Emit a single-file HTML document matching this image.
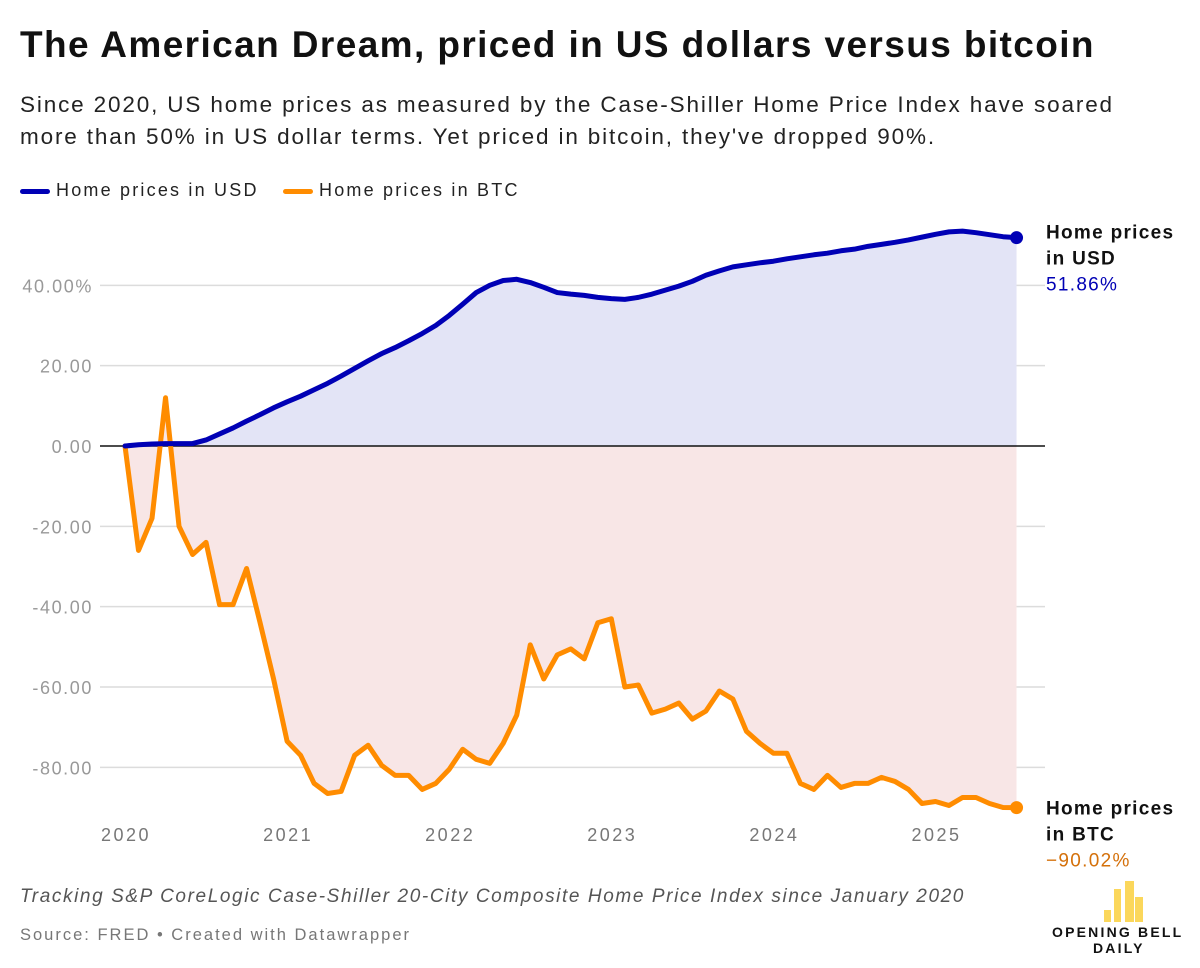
<!DOCTYPE html>
<html><head><meta charset="utf-8">
<style>
body{margin:0;background:#fff;width:1200px;height:968px;overflow:hidden;font-family:"Liberation Sans",sans-serif;}
.t{position:absolute;white-space:nowrap;}
</style></head>
<body>
<div class="t" style="left:20px;top:24px;font-size:37px;font-weight:bold;color:#111;letter-spacing:1.4px">The American Dream, priced in US dollars versus bitcoin</div>
<div class="t" style="left:20px;top:89px;font-size:22.5px;line-height:32px;color:#222;letter-spacing:1.85px">Since 2020, US home prices as measured by the Case-Shiller Home Price Index have soared<br>more than 50% in US dollar terms. Yet priced in bitcoin, they've dropped 90%.</div>
<div class="t" style="left:20px;top:180px;font-size:18px;color:#222;letter-spacing:2.2px"><span style="display:inline-block;width:30px;height:5px;background:#0000b5;border-radius:3px;vertical-align:middle;margin-right:6px"></span>Home prices in USD</div>
<div class="t" style="left:283px;top:180px;font-size:18px;color:#222;letter-spacing:2.2px"><span style="display:inline-block;width:30px;height:5px;background:#ff8c00;border-radius:3px;vertical-align:middle;margin-right:6px"></span>Home prices in BTC</div>
<svg id="chart" width="1200" height="968" style="position:absolute;left:0;top:0"></svg>
<div class="t" style="left:20px;top:886px;font-size:19px;font-style:italic;color:#555;letter-spacing:1.6px">Tracking S&amp;P CoreLogic Case-Shiller 20-City Composite Home Price Index since January 2020</div>
<div class="t" style="left:20px;top:926px;font-size:16.5px;color:#777;letter-spacing:2px">Source: FRED • Created with Datawrapper</div>
<div style="position:absolute;left:1045px;top:878px;width:150px;height:85px">
  <div style="position:absolute;left:59px;top:32px;width:7px;height:12px;background:#fbd75b"></div>
  <div style="position:absolute;left:69px;top:11px;width:7px;height:33px;background:#fbd75b"></div>
  <div style="position:absolute;left:80px;top:3px;width:9px;height:41px;background:#fbd75b"></div>
  <div style="position:absolute;left:90px;top:19px;width:8px;height:25px;background:#fbd75b"></div>
  <div class="t" style="left:7px;top:46px;font-size:14px;font-weight:bold;letter-spacing:2.2px;color:#111">OPENING BELL</div>
  <div class="t" style="left:48px;top:62px;font-size:14px;font-weight:bold;letter-spacing:2.2px;color:#111">DAILY</div>
</div>
<script>
const usdValues=[0,0.3,0.5,0.6,0.6,0.6,1.5,3,4.5,6.2,7.8,9.5,11,12.4,14,15.6,17.4,19.3,21.2,23,24.5,26.2,28,30,32.5,35.3,38.2,40,41.2,41.5,40.7,39.5,38.2,37.8,37.5,37,36.7,36.5,37,37.8,38.8,39.8,41,42.5,43.6,44.6,45.1,45.6,46,46.6,47.1,47.6,48,48.6,49,49.7,50.2,50.7,51.3,52,52.7,53.3,53.5,53.1,52.6,52.1,51.86];
const btcValues=[0,-26,-18,12,-20,-27,-24,-39.5,-39.5,-30.5,-44,-58,-73.5,-77,-84,-86.5,-86,-77,-74.5,-79.5,-82,-82,-85.5,-84,-80.5,-75.5,-78,-79,-74,-67,-49.5,-58,-52,-50.5,-53,-44,-43,-60,-59.5,-66.5,-65.5,-64,-68,-66,-61,-63,-71,-74,-76.5,-76.5,-84,-85.5,-82,-85,-84,-84,-82.5,-83.5,-85.5,-89,-88.5,-89.5,-87.5,-87.5,-89,-90,-90.02];
const yTicks=[40,20,0,-20,-40,-60,-80];
const yTickLabels=["40.00%","20.00","0.00","-20.00","-40.00","-60.00","-80.00"];
const xYears=[2020,2021,2022,2023,2024,2025];
const startYear=2020;
const NS="http://www.w3.org/2000/svg";
const svg=document.getElementById('chart');
const x0=125,pxPerYear=162.1;
function xs(i){return x0+(i/12)*pxPerYear;}
function xYear(y){return x0+(y-startYear)*pxPerYear;}
function ys(v){return 446-v*4.017;}
function mk(tag,attrs){const e=document.createElementNS(NS,tag);for(const k in attrs)e.setAttribute(k,attrs[k]);svg.appendChild(e);return e;}
yTicks.forEach((t,k)=>{
  if(t!==0){const g=mk('line',{x1:100,x2:1045,y1:ys(t),y2:ys(t),stroke:'#dcdcdc','stroke-width':1.5});
  
  }
  const tx=mk('text',{x:93,y:ys(t)+7,'text-anchor':'end','font-size':18,fill:'#999','font-family':'Liberation Sans, sans-serif','letter-spacing':'1.6'});
  tx.textContent=yTickLabels[k];
  
  
});
xYears.forEach(y=>{
  const tx=mk('text',{x:xYear(y)+1,y:841,'text-anchor':'middle','font-size':18,fill:'#777','font-family':'Liberation Sans, sans-serif','letter-spacing':'2.5'});
  tx.textContent=y;
  
  
});
function areaPath(vals){let d='M'+xs(0)+','+ys(0);vals.forEach((v,i)=>d+=' L'+xs(i)+','+ys(v));d+=' L'+xs(vals.length-1)+','+ys(0)+' Z';return d;}
function linePath(vals){return vals.map((v,i)=>(i?'L':'M')+xs(i)+','+ys(v)).join(' ');}
const a1=mk('path',{d:areaPath(usdValues),fill:'#e3e4f6'});


const a2=mk('path',{d:areaPath(btcValues),fill:'#f8e6e6'});


const zl=mk('line',{x1:100,x2:1045,y1:ys(0),y2:ys(0),stroke:'#111','stroke-width':1.5});


const l2=mk('path',{d:linePath(btcValues),fill:'none',stroke:'#ff8c00','stroke-width':5,'stroke-linejoin':'round','stroke-linecap':'round'});


const l1=mk('path',{d:linePath(usdValues),fill:'none',stroke:'#0000b5','stroke-width':5,'stroke-linejoin':'round','stroke-linecap':'round'});


const n=usdValues.length-1;
const d1=mk('circle',{cx:xs(n),cy:ys(usdValues[n]),r:6.5,fill:'#0000b5'});


const d2=mk('circle',{cx:xs(n),cy:ys(btcValues[n]),r:6.5,fill:'#ff8c00'});


function label(yTop,l1t,l2t,val,col,name){
  const g=document.createElementNS(NS,'text');
  g.setAttribute('font-family','Liberation Sans, sans-serif');
  g.setAttribute('letter-spacing','1.3');
  
  
  [[l1t,'#111','bold'],[l2t,'#111','bold'],[val,col,'normal']].forEach((r,k)=>{
    const s=document.createElementNS(NS,'tspan');
    s.setAttribute('x',1046);s.setAttribute('y',yTop+k*26);
    s.setAttribute('font-size',19);s.setAttribute('fill',r[1]);s.setAttribute('font-weight',r[2]);
    s.textContent=r[0];g.appendChild(s);
  });
  svg.appendChild(g);
}
label(ys(usdValues[n])+1,'Home prices','in USD',usdValues[n].toFixed(2)+'%','#0000b5','usd-end-label');
label(ys(btcValues[n])+7,'Home prices','in BTC','\u2212'+Math.abs(btcValues[n]).toFixed(2)+'%','#d4700a','btc-end-label');
</script>
</body></html>
